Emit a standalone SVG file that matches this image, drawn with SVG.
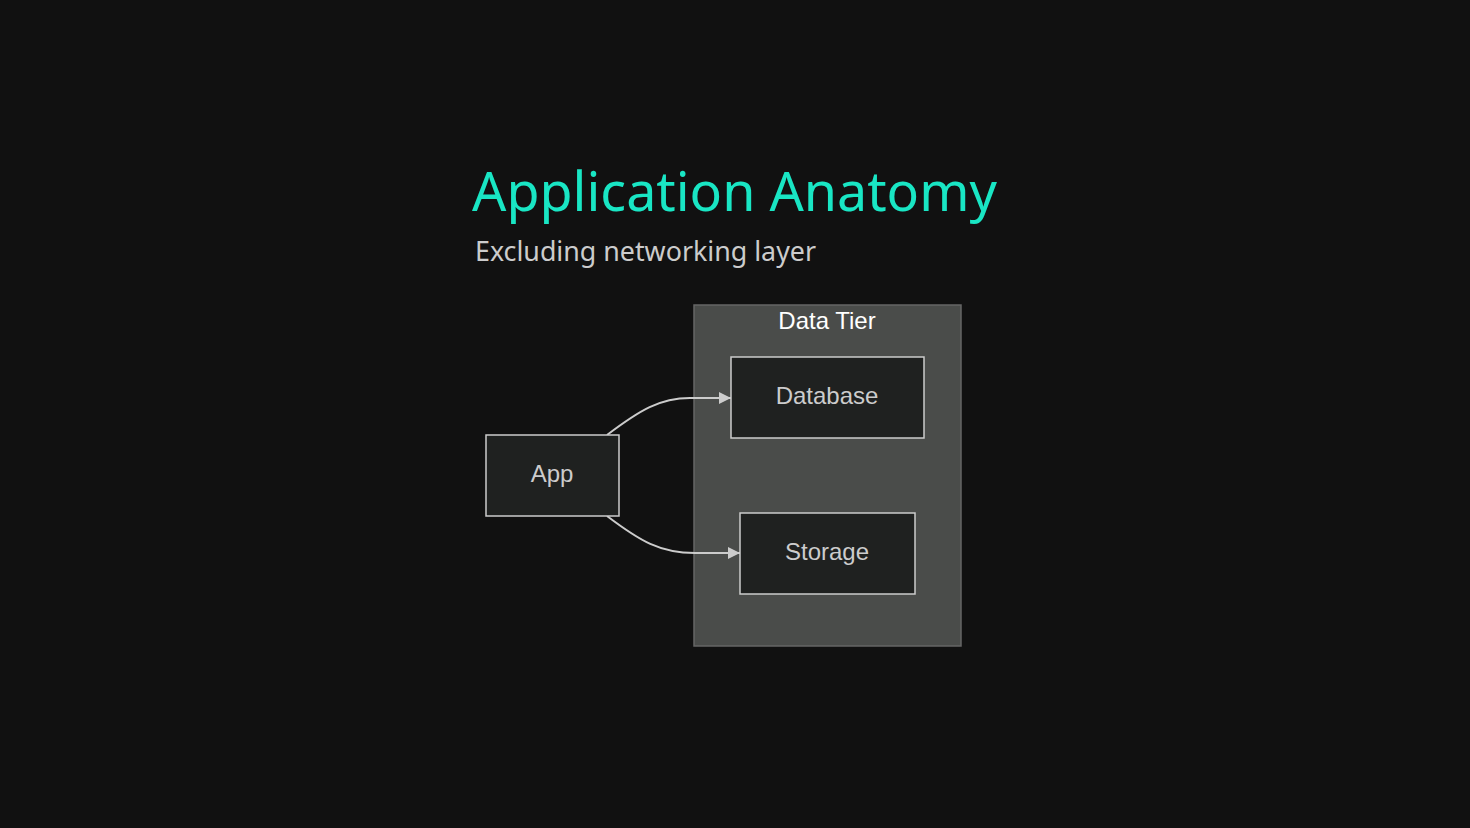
<svg xmlns="http://www.w3.org/2000/svg" width="1470" height="828" viewBox="0 0 1470 828">
<defs>
<style>
.node rect{fill:#1f2120;stroke:#cccccc;stroke-width:1.5}
.node text{font-family:"Liberation Sans",Arial,sans-serif;font-size:24px;fill:#cccccc;text-anchor:middle}
.edge{fill:none;stroke:#cccccc;stroke-width:2}
</style>
<marker id="arr" viewBox="0 0 10 10" refX="10" refY="5" markerWidth="12" markerHeight="12" markerUnits="userSpaceOnUse" orient="auto">
<path d="M0,0 L10,5 L0,10 z" fill="#cccccc"/>
</marker>
</defs>
<rect width="1470" height="828" fill="#111111"/>
<text x="472" y="211" font-family="'Noto Sans',sans-serif" font-size="53.8" fill="#19e6c4">Application Anatomy</text>
<text x="475" y="261" font-family="'Noto Sans',sans-serif" font-size="26.8" fill="#cccccc">Excluding networking layer</text>
<g id="cluster-data-tier">
<rect x="694" y="305" width="267" height="341" fill="#4a4c4a" stroke="#666666" stroke-width="1.5"/>
<text x="827" y="329" font-family="'Liberation Sans',Arial,sans-serif" font-size="24" fill="#ffffff" text-anchor="middle">Data Tier</text>
</g>
<g id="connectors">
<path class="edge" d="M607,435 C640,410 660,398 690,398 L731,398" marker-end="url(#arr)"/>
<path class="edge" d="M607,516 C640,541 660,553 695,553 L740,553" marker-end="url(#arr)"/>
</g>
<g id="app" class="node">
<rect x="486" y="435" width="133" height="81"/>
<text x="552" y="482">App</text>
</g>
<g id="database" class="node">
<rect x="731" y="357" width="193" height="81"/>
<text x="827" y="404">Database</text>
</g>
<g id="storage" class="node">
<rect x="740" y="513" width="175" height="81"/>
<text x="827" y="560">Storage</text>
</g>
</svg>
